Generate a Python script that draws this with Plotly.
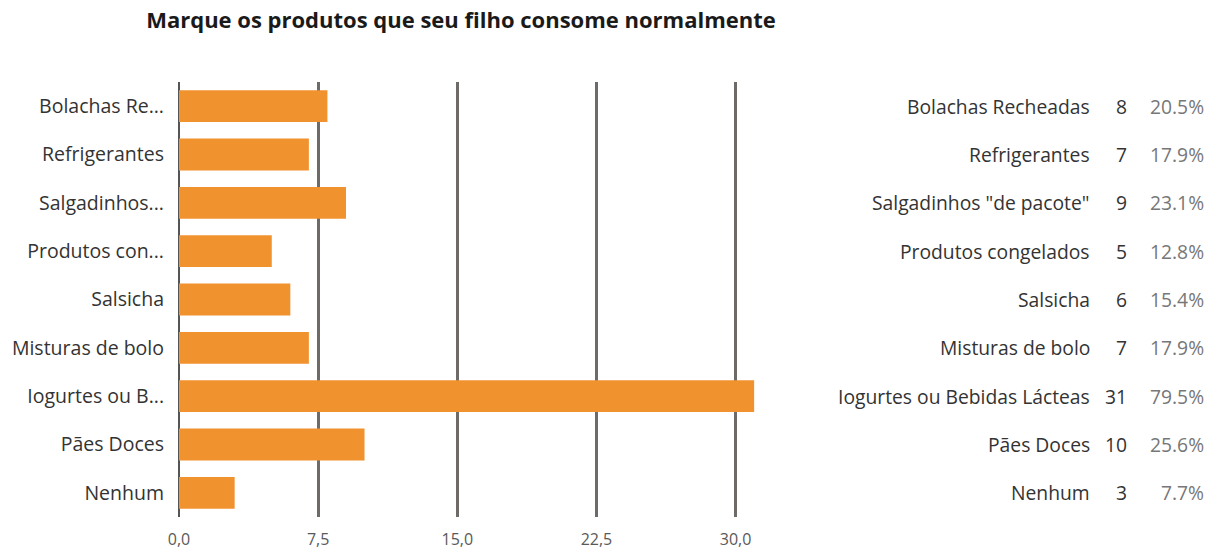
import plotly.graph_objects as go

title = "Marque os produtos que seu filho consome normalmente"
categories = ["Bolachas Recheadas", "Refrigerantes", "Salgadinhos \"de pacote\"",
              "Produtos congelados", "Salsicha", "Misturas de bolo",
              "Iogurtes ou Bebidas Lácteas", "Pães Doces", "Nenhum"]
tick_labels = ["Bolachas Re...", "Refrigerantes", "Salgadinhos...", "Produtos con...",
               "Salsicha", "Misturas de bolo", "Iogurtes ou B...", "Pães Doces", "Nenhum"]
counts = [8, 7, 9, 5, 6, 7, 31, 10, 3]
percents = ["20.5%", "17.9%", "23.1%", "12.8%", "15.4%", "17.9%", "79.5%", "25.6%", "7.7%"]
x_ticks = [0, 7.5, 15, 22.5, 30]
x_tick_labels = ["0,0", "7,5", "15,0", "22,5", "30,0"]

W, H = 1219, 551
FONT = "Open Sans"
pos = list(range(len(categories)))

fig = go.Figure()
fig.add_trace(go.Bar(x=counts, y=pos, orientation="h", marker_color="#F0922E",
                     marker_line_width=0, width=0.66, hoverinfo="skip"))

ml, mr, mt, mb = 179, W - 756, 82, 34
fig.update_layout(
    width=W, height=H, margin=dict(l=ml, r=mr, t=mt, b=mb),
    paper_bgcolor="white", plot_bgcolor="white", showlegend=False,
    font=dict(family=FONT, color="#333333"),
    title=dict(text="<b>" + title + "</b>", x=461 / W, xanchor="center", y=1 - 20 / H,
               yanchor="middle", font=dict(size=22, family=FONT, color="#1a1a1a")),
    xaxis=dict(range=[0, 31.1], tickvals=x_ticks, ticktext=x_tick_labels,
               showgrid=True, gridcolor="#6e6a68", gridwidth=3,
               zeroline=True, zerolinecolor="#555555", zerolinewidth=1.5,
               showline=False, ticks="", ticklabelstandoff=11, automargin=False,
               tickfont=dict(size=16, color="#595959", family=FONT), fixedrange=True),
    yaxis=dict(range=[8.5, -0.5], tickvals=pos, ticktext=tick_labels, automargin=False,
               showgrid=False, zeroline=False, ticks="", ticklabelstandoff=14,
               tickfont=dict(size=19.5, color="#333333", family=FONT), fixedrange=True),
)

pw = W - ml - mr
def px_to_paper(px):
    return (px - ml) / pw

for i, (c, n, p) in enumerate(zip(categories, counts, percents)):
    fig.add_annotation(x=px_to_paper(1092), y=i, xref="paper", yref="y", text=c,
                       showarrow=False, xanchor="right", yanchor="middle",
                       font=dict(size=19.3, color="#333333", family=FONT))
    fig.add_annotation(x=px_to_paper(1129), y=i, xref="paper", yref="y", text=str(n),
                       showarrow=False, xanchor="right", yanchor="middle",
                       font=dict(size=19.3, color="#333333", family=FONT))
    fig.add_annotation(x=px_to_paper(1206), y=i, xref="paper", yref="y", text=p,
                       showarrow=False, xanchor="right", yanchor="middle",
                       font=dict(size=19.3, color="#777777", family=FONT))

fig.write_html("out.html")
